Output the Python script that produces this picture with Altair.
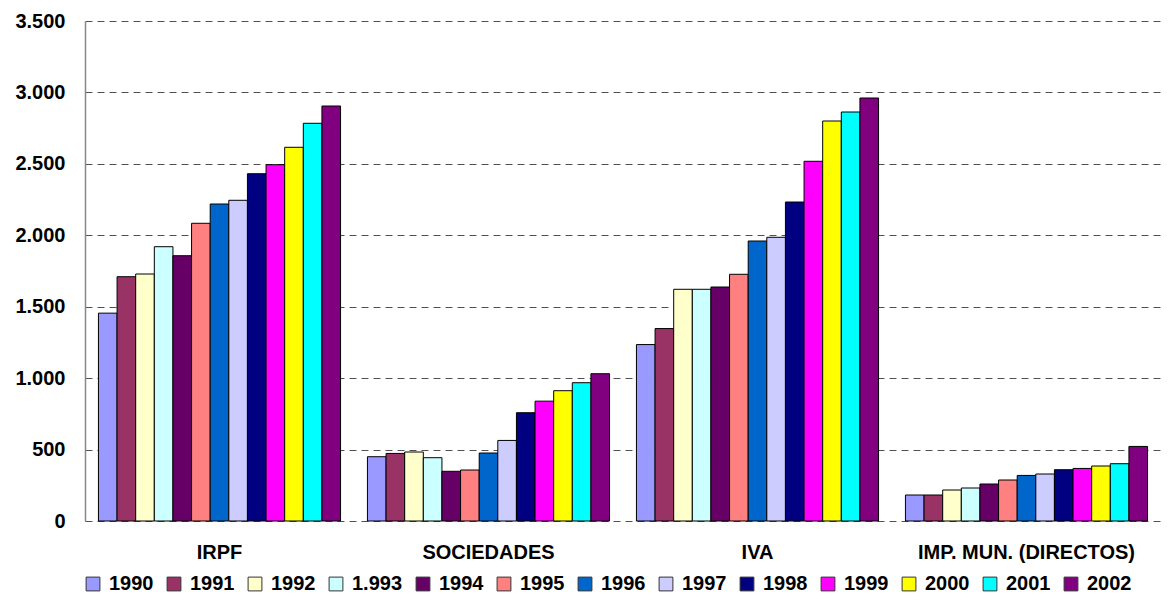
import altair as alt
import pandas as pd

categories = ["IRPF", "SOCIEDADES", "IVA", "IMP. MUN. (DIRECTOS)"]
years = ["1990", "1991", "1992", "1.993", "1994", "1995", "1996",
         "1997", "1998", "1999", "2000", "2001", "2002"]
colors = ["#9999FF", "#993366", "#FFFFCC", "#CCFFFF", "#660066", "#FF8080",
          "#0066CC", "#CCCCFF", "#000080", "#FF00FF", "#FFFF00", "#00FFFF",
          "#800080"]

irpf = [1455, 1710, 1729, 1920, 1857, 2084, 2219, 2245, 2431, 2494, 2616, 2784, 2905]
sociedades = [450, 473, 483, 443, 348, 357, 476, 564, 758, 839, 912, 968, 1031]
iva = [1235, 1347, 1622, 1622, 1638, 1727, 1960, 1986, 2233, 2518, 2800, 2863, 2961]
imp_mun = [182, 182, 217, 231, 259, 287, 319, 329, 359, 368, 385, 401, 522]

series = [irpf, sociedades, iva, imp_mun]
rows = []
for cat, vals in zip(categories, series):
    for yr, v in zip(years, vals):
        rows.append({"impuesto": cat, "anio": yr, "valor": v})
df = pd.DataFrame(rows)

FONT = "Liberation Sans"

chart = alt.Chart(df).mark_bar(stroke="black", strokeWidth=1).encode(
    x=alt.X("impuesto:N", sort=categories, title=None,
            scale=alt.Scale(paddingInner=0.1, paddingOuter=0.05),
            axis=alt.Axis(labelAngle=0, domain=False, ticks=False, labelPadding=21,
                          labelLimit=0,
                          labelFont=FONT, labelFontSize=20, labelFontWeight="bold",
                          labelColor="black", grid=False)),
    xOffset=alt.XOffset("anio:N", sort=years, scale=alt.Scale(paddingInner=0, paddingOuter=0)),
    y=alt.Y("valor:Q", title=None,
            scale=alt.Scale(domain=[0, 3500], nice=False),
            axis=alt.Axis(values=[0, 500, 1000, 1500, 2000, 2500, 3000, 3500],
                          labelExpr="replace(format(datum.value, ','), ',', '.')",
                          ticks=False, labelPadding=20, domain=True,
                          domainColor="#888888", domainWidth=1.5,
                          grid=True, gridColor="#505050", gridDash=[7, 5], gridWidth=1,
                          labelFont=FONT, labelFontSize=20, labelFontWeight="bold",
                          labelColor="black")),
    color=alt.Color("anio:N", sort=years, title=None,
                    scale=alt.Scale(domain=years, range=colors),
                    legend=alt.Legend(orient="none", legendX=-2, legendY=553,
                                      direction="horizontal", columns=13,
                                      symbolType="square", symbolSize=190,
                                      symbolStrokeColor="#333333", symbolStrokeWidth=1,
                                      symbolOpacity=1, labelLimit=0,
                                      labelFont=FONT, labelFontSize=20,
                                      labelFontWeight="bold", labelColor="black",
                                      labelOffset=6, columnPadding=10)),
).properties(
    width=1076, height=500,
    autosize=alt.AutoSizeParams(type="none"),
    padding={"left": 77, "top": 13, "right": 0, "bottom": 75},
).configure_view(strokeWidth=0)

chart.save("out.html", embed_options={"renderer": "svg", "actions": False})
